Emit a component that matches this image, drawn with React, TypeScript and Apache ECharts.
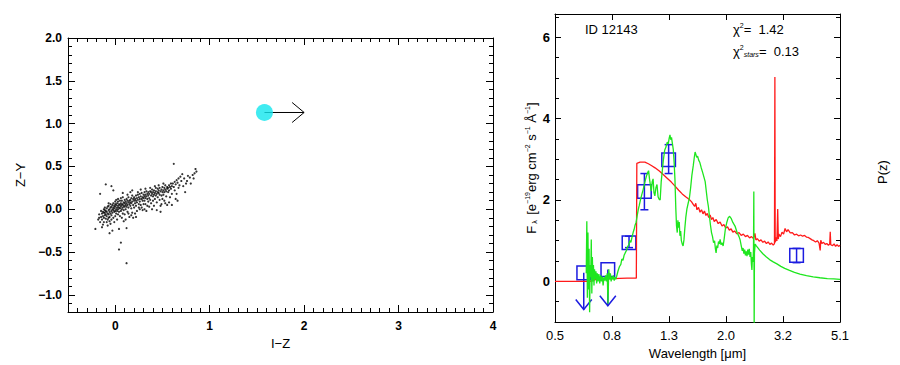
import React, { useEffect, useRef } from "react";
import * as echarts from "echarts";

const FONT = "'Liberation Sans', Arial, Helvetica, sans-serif";

// ---------- Left panel: colour-colour diagram (I-Z vs Z-Y) ----------
const starColors: [number, number][] = [
  [-0.21, -0.23], [-0.18, -0.12], [-0.17, -0.06], [-0.16, -0.15], [-0.15, -0.09], [-0.16, 0.18], [-0.15, -0.02], [-0.17, -0.1],
  [-0.14, -0.05], [-0.14, -0.12], [-0.13, -0.03], [-0.13, -0.08], [-0.12, 0.0], [-0.12, -0.1], [-0.12, -0.15], [-0.11, -0.04],
  [-0.11, -0.07], [-0.11, 0.02], [-0.1, -0.02], [-0.1, -0.06], [-0.1, -0.11], [-0.1, 0.29], [-0.13, -0.18], [-0.14, -0.21],
  [-0.12, -0.04], [-0.11, -0.01],
  [-0.09, -0.03], [-0.09, 0.01], [-0.09, -0.08], [-0.08, -0.05], [-0.08, 0.03], [-0.08, -0.12], [-0.07, -0.01], [-0.07, -0.06],
  [-0.07, 0.04], [-0.06, -0.03], [-0.06, 0.0], [-0.06, -0.09], [-0.06, -0.28], [-0.05, 0.02], [-0.05, -0.05], [-0.05, 0.06],
  [-0.09, -0.15], [-0.08, -0.19], [-0.07, -0.1], [-0.06, -0.14], [-0.05, -0.17], [-0.07, 0.07],
  [-0.04, -0.02], [-0.04, 0.03], [-0.04, -0.07], [-0.04, 0.27], [-0.03, 0.0], [-0.03, 0.05], [-0.03, -0.04], [-0.02, 0.02],
  [-0.02, -0.01], [-0.02, 0.07], [-0.02, -0.1], [-0.01, 0.04], [-0.01, -0.03], [-0.01, 0.01], [0.0, 0.03], [0.0, -0.02],
  [0.0, 0.06], [0.0, -0.08], [-0.03, -0.25], [-0.01, -0.15], [-0.04, -0.12], [0.0, 0.09], [-0.02, 0.22],
  [0.01, 0.0], [0.01, 0.05], [0.01, -0.05], [0.02, 0.02], [0.02, 0.07], [0.02, -0.02], [0.03, 0.04], [0.03, 0.0],
  [0.03, 0.09], [0.03, -0.06], [0.04, 0.02], [0.04, 0.06], [0.04, -0.03], [0.04, -0.47], [0.05, 0.01], [0.05, 0.05],
  [0.05, 0.1], [0.05, -0.08], [0.02, -0.12], [0.04, -0.23], [0.01, 0.11], [0.03, 0.12],
  [0.06, -0.39], [0.06, 0.03], [0.06, 0.07], [0.06, -0.02], [0.07, 0.05], [0.07, 0.0], [0.07, 0.1], [0.08, 0.02],
  [0.08, 0.06], [0.08, -0.05], [0.08, 0.14], [0.09, 0.04], [0.09, 0.08], [0.09, -0.01], [0.1, 0.03], [0.1, 0.07],
  [0.1, 0.11], [0.1, -0.06], [0.07, -0.1], [0.09, -0.14], [0.06, 0.13], [0.08, 0.19],
  [0.11, 0.05], [0.11, 0.0], [0.11, 0.09], [0.12, -0.63], [0.12, 0.07], [0.12, 0.03], [0.12, 0.12], [0.13, 0.05],
  [0.13, -0.03], [0.13, 0.1], [0.14, 0.08], [0.14, 0.02], [0.14, 0.14], [0.15, 0.06], [0.15, 0.1], [0.15, -0.09],
  [0.11, -0.12], [0.13, 0.17], [0.12, -0.22], [0.14, -0.05],
  [0.16, 0.04], [0.16, 0.11], [0.16, 0.08], [0.17, 0.13], [0.17, 0.01], [0.17, 0.07], [0.18, 0.09], [0.18, 0.16],
  [0.18, -0.04], [0.19, 0.05], [0.19, 0.12], [0.2, 0.1], [0.2, 0.14], [0.2, 0.02], [0.16, 0.2], [0.19, -0.1],
  [0.18, 0.22], [0.17, -0.07],
  [0.21, 0.07], [0.21, 0.12], [0.22, 0.16], [0.22, 0.04], [0.22, 0.1], [0.23, 0.13], [0.23, 0.08], [0.23, -0.02],
  [0.24, 0.11], [0.24, 0.17], [0.25, 0.06], [0.25, 0.14], [0.21, -0.05], [0.24, 0.2], [0.22, -0.09], [0.25, 0.02],
  [0.26, 0.12], [0.26, 0.09], [0.26, 0.18], [0.27, 0.15], [0.27, 0.05], [0.28, 0.12], [0.28, 0.19], [0.28, 0.02],
  [0.29, 0.14], [0.29, 0.1], [0.3, 0.17], [0.3, 0.13], [0.3, 0.06], [0.27, 0.23], [0.29, -0.01], [0.26, 0.0],
  [0.31, 0.15], [0.31, 0.1], [0.31, 0.2], [0.32, 0.13], [0.32, 0.17], [0.32, 0.06], [0.33, 0.15], [0.33, 0.21],
  [0.34, 0.12], [0.34, 0.18], [0.34, 0.04], [0.35, 0.16], [0.35, 0.2], [0.35, 0.09], [0.33, -0.02], [0.32, 0.24], [0.31, 0.0],
  [0.36, 0.13], [0.36, 0.18], [0.37, 0.21], [0.37, 0.11], [0.38, 0.16], [0.38, 0.2], [0.38, 0.07], [0.39, 0.18],
  [0.39, 0.23], [0.4, 0.15], [0.4, 0.2], [0.4, 0.1], [0.37, 0.25], [0.36, 0.03], [0.39, 0.0],
  [0.41, 0.17], [0.41, 0.22], [0.42, 0.19], [0.42, 0.12], [0.43, 0.21], [0.43, 0.16], [0.43, 0.25], [0.44, 0.18],
  [0.44, 0.08], [0.45, 0.2], [0.45, 0.24], [0.45, 0.14], [0.42, 0.27], [0.44, -0.01], [0.41, 0.04],
  [0.46, 0.19], [0.46, 0.22], [0.47, 0.17], [0.47, 0.25], [0.47, 0.11], [0.48, 0.21], [0.48, -0.03], [0.48, 0.04],
  [0.49, 0.23], [0.49, 0.16], [0.5, 0.2], [0.5, 0.26], [0.5, 0.12], [0.46, 0.28], [0.49, 0.06],
  [0.51, 0.22], [0.51, 0.17], [0.52, 0.25], [0.52, 0.2], [0.52, 0.1], [0.53, 0.23], [0.53, 0.28], [0.54, 0.21],
  [0.54, 0.15], [0.55, 0.26], [0.55, 0.24], [0.55, 0.05], [0.53, 0.07], [0.51, 0.3],
  [0.56, 0.25], [0.56, 0.2], [0.57, 0.28], [0.57, 0.22], [0.58, 0.26], [0.58, 0.14], [0.59, 0.3], [0.59, 0.24],
  [0.6, 0.27], [0.6, 0.18], [0.57, 0.08], [0.6, 0.05],
  [0.61, 0.3], [0.62, 0.26], [0.62, 0.53], [0.63, 0.32], [0.63, 0.22], [0.64, 0.29], [0.65, 0.34], [0.65, 0.18],
  [0.66, 0.31], [0.67, 0.36], [0.67, 0.25], [0.68, 0.28], [0.69, 0.38], [0.7, 0.33], [0.64, 0.12], [0.66, 0.1],
  [0.71, 0.41], [0.72, 0.27], [0.73, 0.36], [0.74, 0.2], [0.76, 0.33], [0.77, 0.39], [0.79, 0.37], [0.8, 0.3],
  [0.83, 0.36], [0.84, 0.42], [0.85, 0.47], [0.86, 0.44], [0.82, 0.4], [0.75, 0.3],
];
const targetIZ = [1.58];
const targetZY = [1.13];
const targetIZLimitTo = [2.0];

// ---------- Right panel: SED ----------
const waveTickLabels = ["0.5", "0.8", "1.3", "2.0", "3.2", "5.1"];
const WAVE_MIN = 0.5;
const WAVE_MAX = 5.1;

// red: best-fit template (wavelength um, flux)
const modelSed: [number, number][] = [
  [0.5, 0.0], [0.6, 0.0], [0.665, 0.0], [0.7, 0.05], [0.8, 0.07], [0.9, 0.08], [0.97, 0.08], [0.974, 2.9],
  [1.0, 2.93], [1.04, 2.93], [1.07, 2.89], [1.1, 2.84], [1.13, 2.79], [1.17, 2.71], [1.21, 2.62], [1.25, 2.53],
  [1.29, 2.44], [1.33, 2.34], [1.37, 2.24], [1.41, 2.15], [1.45, 2.08], [1.49, 2.02], [1.52, 1.96], [1.54, 1.9],
  [1.56, 1.84], [1.575, 1.92], [1.59, 1.76], [1.61, 1.82], [1.63, 1.7], [1.65, 1.76], [1.67, 1.66], [1.69, 1.73],
  [1.71, 1.62], [1.73, 1.67], [1.75, 1.57], [1.77, 1.63], [1.79, 1.52], [1.81, 1.57], [1.83, 1.47], [1.86, 1.52],
  [1.89, 1.42], [1.92, 1.46], [1.95, 1.36], [1.98, 1.4], [2.01, 1.31], [2.04, 1.34], [2.07, 1.26], [2.1, 1.29],
  [2.13, 1.21], [2.16, 1.24], [2.2, 1.17], [2.24, 1.2], [2.28, 1.13], [2.32, 1.16], [2.36, 1.1], [2.4, 1.13],
  [2.44, 1.07], [2.48, 1.1], [2.52, 1.05], [2.55, 1.18], [2.57, 1.02], [2.6, 1.05], [2.64, 0.99], [2.68, 1.02],
  [2.72, 0.96], [2.76, 0.99], [2.8, 0.93], [2.84, 0.97], [2.88, 0.91], [2.92, 0.94], [2.96, 0.89], [2.99, 0.93],
  [3.0, 5.02], [3.008, 0.96], [3.03, 1.08], [3.05, 0.99], [3.07, 1.78], [3.085, 1.04], [3.1, 1.16], [3.14, 1.1],
  [3.18, 1.21], [3.22, 1.16], [3.26, 1.3], [3.3, 1.22], [3.34, 1.27], [3.4, 1.19], [3.46, 1.2], [3.52, 1.14],
  [3.58, 1.16], [3.64, 1.12], [3.7, 1.14], [3.76, 1.11], [3.82, 1.13], [3.88, 1.09], [3.94, 1.08], [4.0, 1.05],
  [4.06, 1.02], [4.12, 1.0], [4.18, 0.97], [4.24, 1.0], [4.3, 0.94], [4.34, 0.76], [4.36, 1.01], [4.4, 0.93],
  [4.46, 0.96], [4.52, 0.91], [4.58, 0.93], [4.64, 0.89], [4.69, 0.92], [4.71, 1.22], [4.73, 0.9], [4.8, 0.88],
  [4.86, 0.92], [4.92, 0.86], [4.98, 0.9], [5.04, 0.86], [5.1, 0.89],
];

// green: spectrum (wavelength um, flux)
const observedSpec: [number, number][] = [
  [0.645, 0.2], [0.648, 1.48], [0.651, -0.4], [0.654, 1.2], [0.657, -0.2], [0.66, 0.8], [0.663, -0.76], [0.666, 0.4],
  [0.669, 0.1], [0.672, 1.03], [0.675, -0.3], [0.678, 0.6], [0.681, 0.0], [0.684, 0.4], [0.687, -0.1], [0.69, 0.3],
  [0.694, 0.05], [0.698, 0.25], [0.702, -0.05], [0.706, 0.2], [0.71, 0.0], [0.715, 0.18], [0.72, -0.05], [0.725, 0.15],
  [0.73, 0.0], [0.735, 0.12], [0.74, -0.1], [0.745, 0.1], [0.75, 0.02], [0.755, 0.15], [0.76, 0.0], [0.765, 0.2],
  [0.77, -0.55], [0.775, 0.3], [0.78, 0.05], [0.785, 0.2], [0.79, 0.0], [0.795, 0.12], [0.8, 0.05], [0.805, 0.15],
  [0.81, 0.02], [0.815, 0.1], [0.82, 0.05], [0.826, 0.12], [0.835, 0.25], [0.845, 0.36], [0.855, 0.42], [0.862, 0.55],
  [0.87, 0.52], [0.878, 0.64], [0.886, 0.7], [0.895, 0.76], [0.903, 0.85], [0.912, 0.9], [0.92, 1.0], [0.928, 0.96],
  [0.936, 1.08], [0.945, 1.2], [0.953, 1.28], [0.96, 1.38], [0.968, 1.45], [0.976, 1.6], [0.985, 1.76], [0.993, 1.86],
  [1.003, 2.0], [1.013, 2.12], [1.025, 2.25], [1.035, 2.38], [1.045, 2.5], [1.055, 2.6], [1.065, 2.68], [1.072, 2.72],
  [1.08, 2.52], [1.088, 2.36], [1.096, 2.22], [1.104, 2.45], [1.112, 2.52], [1.12, 2.18], [1.128, 2.1], [1.138, 2.3],
  [1.148, 2.38], [1.158, 2.08], [1.168, 2.02], [1.178, 2.0], [1.188, 2.45], [1.198, 2.7], [1.21, 3.0], [1.222, 3.22],
  [1.235, 3.3], [1.248, 3.42], [1.258, 3.38], [1.268, 3.52], [1.276, 3.6], [1.284, 3.48], [1.292, 3.54], [1.302, 3.38],
  [1.311, 3.24], [1.32, 2.92], [1.329, 2.5], [1.338, 1.8], [1.346, 1.36], [1.354, 1.2], [1.361, 1.5], [1.368, 1.32],
  [1.376, 1.46], [1.384, 1.12], [1.392, 1.24], [1.4, 1.0], [1.41, 0.92], [1.42, 0.87], [1.43, 1.02], [1.44, 1.3],
  [1.452, 1.58], [1.465, 1.78], [1.48, 1.92], [1.495, 2.05], [1.51, 2.3], [1.525, 2.6], [1.543, 2.85], [1.556, 3.05],
  [1.566, 3.18], [1.576, 3.12], [1.586, 3.05], [1.598, 3.08], [1.612, 2.98], [1.628, 2.92], [1.645, 2.8], [1.665, 2.68],
  [1.685, 2.55], [1.7, 2.45], [1.715, 2.22], [1.73, 2.0], [1.745, 1.84], [1.76, 1.6], [1.775, 1.38], [1.79, 1.2],
  [1.805, 1.1], [1.82, 0.95], [1.835, 1.0], [1.848, 0.8], [1.858, 0.7], [1.87, 0.88], [1.882, 0.82], [1.895, 0.98],
  [1.908, 0.92], [1.92, 1.03], [1.935, 0.9], [1.95, 0.95], [1.968, 0.87], [1.985, 1.05], [2.005, 1.3], [2.026, 1.44],
  [2.05, 1.56], [2.075, 1.6], [2.1, 1.55], [2.13, 1.45], [2.168, 1.36], [2.205, 1.2], [2.24, 1.1], [2.26, 1.02],
  [2.28, 0.88], [2.3, 0.75], [2.315, 0.82], [2.33, 0.68], [2.345, 0.78], [2.36, 0.64], [2.375, 0.74], [2.39, 0.62],
  [2.405, 0.78], [2.42, 0.66], [2.435, 0.8], [2.45, 0.6], [2.465, 0.72], [2.478, 0.42], [2.488, 0.28], [2.498, 0.6],
  [2.51, 0.48], [2.52, 0.8], [2.527, 2.21], [2.531, 0.3], [2.534, -1.2], [2.54, 0.7], [2.555, 0.92], [2.575, 0.88],
  [2.6, 0.84], [2.65, 0.77], [2.72, 0.68], [2.8, 0.6], [2.88, 0.53], [2.96, 0.48], [3.05, 0.43], [3.15, 0.37],
  [3.25, 0.32], [3.38, 0.27], [3.52, 0.22], [3.68, 0.18], [3.88, 0.14], [4.1, 0.11], [4.33, 0.09], [4.6, 0.07],
  [4.85, 0.06], [5.1, 0.05],
];

// blue: photometry
const photLam = [0.632, 0.769, 0.914, 1.036, 1.262, 3.58];
const photFlux = [0.21, 0.29, 0.95, 2.21, 2.99, 0.64];
const photLow = [-0.69, -0.6, 0.83, 1.76, 2.65, 0.46];
const photHigh = [0.21, 0.29, 1.11, 2.65, 3.36, 0.81];
const photUpperLimit = [1, 1, 0, 0, 0, 0];

const BLUE = "#1c1ce0";

function toU(l: number) {
  return ((waveTickLabels.length - 1) * Math.log10(l / WAVE_MIN)) / Math.log10(WAVE_MAX / WAVE_MIN);
}

const lbl = { color: "#000", fontFamily: FONT, fontSize: 12, fontWeight: "bold" as const };
const axLine = { show: true, onZero: false, lineStyle: { color: "#000", width: 1 } };

function App() {
  const ref = useRef<HTMLDivElement>(null);
  useEffect(() => {
    if (!ref.current) return;
    const chart = echarts.init(ref.current, null, { renderer: "svg" });
    const leftX = {
      gridIndex: 0, type: "value", min: -0.5, max: 4, minInterval: 1, maxInterval: 1,
      axisLine: axLine, splitLine: { show: false },
      axisTick: { show: true, inside: true, length: 7, lineStyle: { color: "#000" } },
      minorTick: { show: true, splitNumber: 10, length: 4, lineStyle: { color: "#000" } },
    };
    const leftY = {
      gridIndex: 0, type: "value", min: -1.2, max: 2.0, minInterval: 0.5, maxInterval: 0.5,
      axisLine: axLine, splitLine: { show: false },
      axisTick: { show: true, inside: true, length: 7, lineStyle: { color: "#000" } },
      minorTick: { show: true, splitNumber: 5, length: 4, lineStyle: { color: "#000" } },
    };
    const rightX = {
      gridIndex: 1, type: "value", min: 0, max: 5, interval: 1,
      axisLine: axLine, splitLine: { show: false },
      axisTick: { show: true, inside: true, length: 6, lineStyle: { color: "#000" } },
    };
    const rightY = {
      gridIndex: 1, type: "value", min: -1, max: 6.57, minInterval: 2, maxInterval: 2,
      axisLine: axLine, splitLine: { show: false },
      axisTick: { show: true, inside: true, length: 6, lineStyle: { color: "#000" } },
      minorTick: { show: true, splitNumber: 4, length: 4, lineStyle: { color: "#000" } },
    };
    const option: any = {
      animation: false,
      backgroundColor: "#fff",
      grid: [
        { left: 68, top: 38, width: 425, height: 274 },
        { left: 555, top: 14, width: 285, height: 309 },
      ],
      xAxis: [
        {
          ...leftX, position: "bottom",
          axisLabel: { ...lbl, margin: 8, showMinLabel: false, formatter: (v: number) => String(v) },
          name: "I−Z", nameLocation: "middle", nameGap: 20,
          nameTextStyle: { color: "#000", fontFamily: FONT, fontSize: 13 },
        },
        { ...leftX, position: "top", axisLabel: { show: false } },
        {
          ...rightX, position: "bottom",
          axisLabel: { ...lbl, fontSize: 13, fontWeight: "normal", margin: 7, formatter: (v: number) => waveTickLabels[Math.round(v)] },
          name: "Wavelength [μm]", nameLocation: "middle", nameGap: 20,
          nameTextStyle: { color: "#000", fontFamily: FONT, fontSize: 13 },
        },
        { ...rightX, position: "top", axisLabel: { show: false } },
      ],
      yAxis: [
        {
          ...leftY, position: "left",
          axisLabel: { ...lbl, margin: 6, showMinLabel: false, formatter: (v: number) => v.toFixed(1).replace("-", "−") },
          name: "Z−Y", nameLocation: "middle", nameRotate: 90, nameGap: 41,
          nameTextStyle: { color: "#000", fontFamily: FONT, fontSize: 13 },
        },
        { ...leftY, position: "right", axisLabel: { show: false } },
        {
          ...rightY, position: "left",
          axisLabel: { ...lbl, fontSize: 13, margin: 5, showMinLabel: false, showMaxLabel: false },
          name: "{t|F}{sub| λ }{t| [e}{sup|−19}{t|erg cm}{sup|−2}{t| s}{sup|−1}{t| Å}{sup|−1}{t|]}",
          nameLocation: "middle", nameRotate: 90, nameGap: 17,
          nameTextStyle: {
            color: "#000", fontFamily: FONT, fontSize: 13,
            rich: {
              t: { color: "#000", fontFamily: FONT, fontSize: 13, lineHeight: 14 },
              sup: { color: "#000", fontFamily: FONT, fontSize: 7, verticalAlign: "top", lineHeight: 14 },
              sub: { color: "#000", fontFamily: FONT, fontSize: 7, verticalAlign: "bottom", lineHeight: 14 },
            },
          },
        },
        { ...rightY, position: "right", axisLabel: { show: false } },
      ],
      series: [
        {
          type: "scatter", xAxisIndex: 0, yAxisIndex: 0, data: starColors,
          symbol: "circle", symbolSize: 2.2, itemStyle: { color: "#000" }, silent: true,
        },
        {
          type: "scatter", xAxisIndex: 0, yAxisIndex: 0,
          data: targetIZ.map((v, i) => [v, targetZY[i]]),
          symbolSize: 17, itemStyle: { color: "#12e6ee" },
        },
        {
          type: "custom", xAxisIndex: 0, yAxisIndex: 0,
          data: targetIZ.map((v, i) => [v, targetZY[i], targetIZLimitTo[i]]),
          encode: { x: [0, 2], y: 1 },
          renderItem: (_p: any, api: any) => {
            const p0 = api.coord([api.value(0), api.value(1)]);
            const p1 = api.coord([api.value(2), api.value(1)]);
            return {
              type: "group",
              children: [
                { type: "line", shape: { x1: p0[0], y1: p0[1], x2: p1[0], y2: p1[1] }, style: { stroke: "#000", lineWidth: 1 } },
                {
                  type: "polyline",
                  shape: { points: [[p1[0] - 12, p1[1] - 10], [p1[0], p1[1]], [p1[0] - 12, p1[1] + 10]] },
                  style: { stroke: "#000", fill: "none", lineWidth: 1 },
                },
              ],
            };
          },
        },
        {
          type: "line", xAxisIndex: 2, yAxisIndex: 2, showSymbol: false, symbol: "none",
          data: modelSed.map(([l, f]) => [toU(l), f]),
          lineStyle: { color: "#ff1a1a", width: 1.3 }, clip: true,
        },
        {
          type: "line", xAxisIndex: 2, yAxisIndex: 2, showSymbol: false, symbol: "none",
          data: observedSpec.map(([l, f]) => [toU(l), f]),
          lineStyle: { color: "#1ee61e", width: 1.3 }, clip: true,
        },
        {
          type: "custom", xAxisIndex: 2, yAxisIndex: 2,
          data: photLam.map((l, i) => [toU(l), photFlux[i], photLow[i], photHigh[i], photUpperLimit[i]]),
          encode: { x: 0, y: 1 },
          renderItem: (_p: any, api: any) => {
            const x = api.value(0);
            const c = api.coord([x, api.value(1)]);
            const lo = api.coord([x, api.value(2)]);
            const hi = api.coord([x, api.value(3)]);
            const s = 6.8;
            const st = { stroke: BLUE, lineWidth: 1.5, fill: "none" };
            const children: any[] = [
              { type: "rect", shape: { x: c[0] - s, y: c[1] - s, width: 2 * s, height: 2 * s }, style: st },
            ];
            if (api.value(4)) {
              children.push({ type: "line", shape: { x1: c[0], y1: c[1], x2: lo[0], y2: lo[1] }, style: st });
              children.push({
                type: "polyline",
                shape: { points: [[lo[0] - 8, lo[1] - 10], [lo[0], lo[1]], [lo[0] + 8, lo[1] - 10]] },
                style: st,
              });
            } else {
              children.push({ type: "line", shape: { x1: hi[0], y1: hi[1], x2: lo[0], y2: lo[1] }, style: st });
              children.push({ type: "line", shape: { x1: hi[0] - 4, y1: hi[1], x2: hi[0] + 4, y2: hi[1] }, style: st });
              children.push({ type: "line", shape: { x1: lo[0] - 4, y1: lo[1], x2: lo[0] + 4, y2: lo[1] }, style: st });
            }
            return { type: "group", children };
          },
        },
      ],
      graphic: {
        elements: [
          {
            type: "text", x: 585, y: 29,
            style: { text: "ID 12143", fill: "#000", font: `13px ${FONT}`, verticalAlign: "middle" },
          },
          {
            type: "text", x: 733, y: 29,
            style: {
              text: "{t|χ}{sup|2}{t|=  1.42}", verticalAlign: "middle",
              rich: {
                t: { fill: "#000", fontFamily: FONT, fontSize: 13, lineHeight: 14 },
                sup: { fill: "#000", fontFamily: FONT, fontSize: 7, verticalAlign: "top", lineHeight: 14 },
              },
            },
          },
          {
            type: "text", x: 733, y: 51,
            style: {
              text: "{t|χ}{sup|2}{sub|stars}{t|=  0.13}", verticalAlign: "middle",
              rich: {
                t: { fill: "#000", fontFamily: FONT, fontSize: 13, lineHeight: 14 },
                sup: { fill: "#000", fontFamily: FONT, fontSize: 7, verticalAlign: "top", lineHeight: 14 },
                sub: { fill: "#000", fontFamily: FONT, fontSize: 7, fontStyle: "italic", verticalAlign: "bottom", lineHeight: 12 },
              },
            },
          },
          {
            type: "text", x: 882, y: 172, rotation: Math.PI / 2,
            style: { text: "P(z)", fill: "#000", font: `13px ${FONT}`, align: "center", verticalAlign: "middle" },
          },
        ],
      },
    };
    chart.setOption(option);
    return () => chart.dispose();
  }, []);
  return (
    <div
      ref={ref}
      style={{ position: "absolute", left: 0, top: 0, width: 900, height: 365, background: "#fff" }}
    />
  );
}

export default App;
